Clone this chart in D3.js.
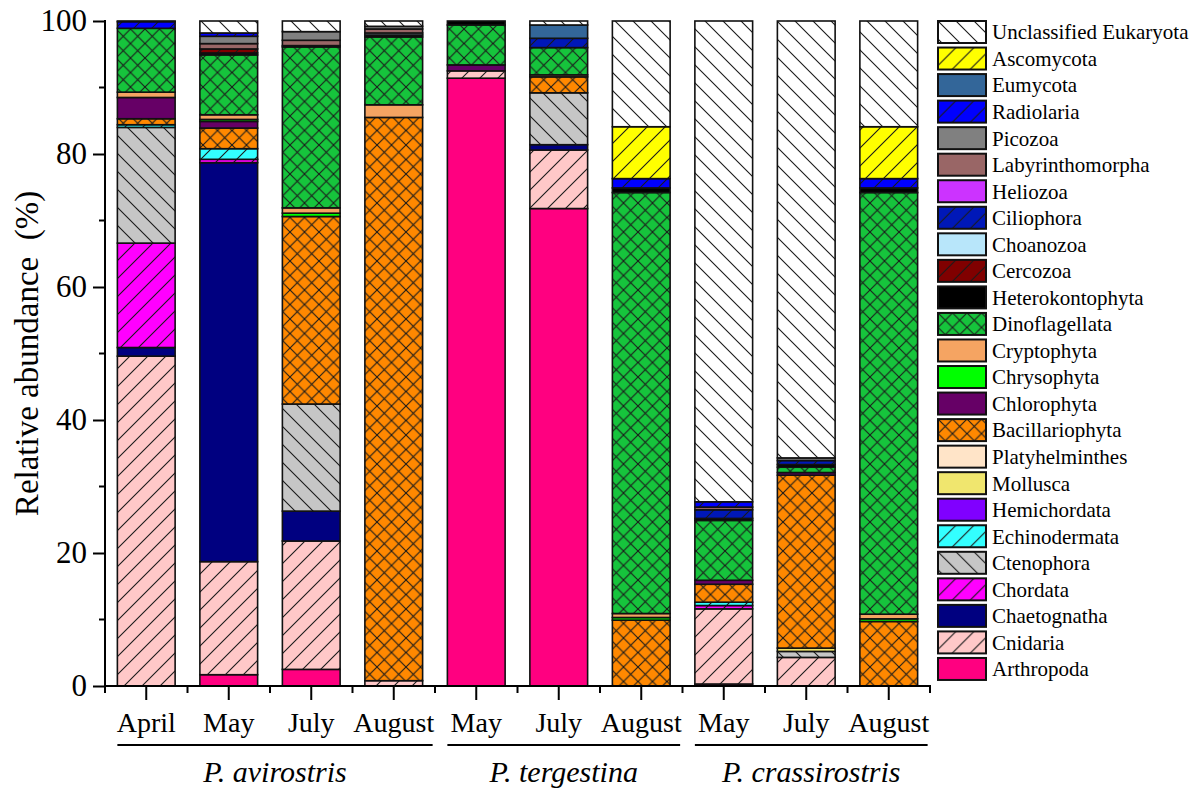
<!DOCTYPE html>
<html>
<head>
<meta charset="utf-8">
<script src="https://cdn.jsdelivr.net/npm/d3@7/dist/d3.min.js"></script>
<style>
  html, body { margin: 0; padding: 0; background: #fff; }
  svg { display: block; }
  svg text { font-family: "Liberation Serif", "Times New Roman", serif; fill: #000; }
</style>
</head>
<body>
<svg id="chart" width="1199" height="788"></svg>
<script>
// Sampling months (one stacked bar each)
const categories = ["April", "May", "July", "August", "May", "July", "August", "May", "July", "August"];

// Copepod species grouping of the bars (first and last bar index of each group)
const groupNames = ["P. avirostris", "P. tergestina", "P. crassirostris"];
const groupFirst = [0, 4, 7];
const groupLast = [3, 6, 9];

// Taxa in stacking order, bottom to top
const taxa = [
  "Arthropoda", "Cnidaria", "Chaetognatha", "Chordata", "Ctenophora", "Echinodermata",
  "Hemichordata", "Mollusca", "Platyhelminthes", "Bacillariophyta", "Chlorophyta",
  "Chrysophyta", "Cryptophyta", "Dinoflagellata", "Heterokontophyta", "Cercozoa",
  "Choanozoa", "Ciliophora", "Heliozoa", "Labyrinthomorpha", "Picozoa", "Radiolaria",
  "Eumycota", "Ascomycota", "Unclassified Eukaryota"
];

// Relative abundance (%) of each taxon per bar
const arthropoda       = [0,    1.7,  2.5,  0,    91.4, 71.8, 0,    0.3,  0,    0];
const cnidaria         = [49.6, 17.0, 19.3, 0.8,  1.1,  8.8,  0,    11.3, 4.3,  0];
const chaetognatha     = [1.3,  60.0, 4.5,  0,    0,    0.8,  0,    0,    0,    0];
const chordata         = [15.7, 0.5,  0,    0,    0,    0,    0,    0.5,  0,    0];
const ctenophora       = [17.4, 0,    16.1, 0,    0,    7.8,  0,    0,    0.9,  0];
const echinodermata    = [0.4,  1.6,  0,    0,    0,    0,    0,    0.5,  0,    0];
const hemichordata     = [0,    0,    0,    0,    0,    0,    0,    0,    0,    0];
const mollusca         = [0,    0,    0,    0,    0,    0,    0,    0,    0.5,  0];
const platyhelminthes  = [0,    0,    0,    0,    0,    0,    0,    0,    0,    0];
const bacillariophyta  = [0.9,  3.1,  28.2, 84.7, 0,    2.4,  9.9,  2.7,  26.0, 9.7];
const chlorophyta      = [3.2,  1.0,  0,    0,    0.9,  0,    0,    0.6,  0.4,  0];
const chrysophyta      = [0,    0.3,  0.5,  0,    0,    0,    0.4,  0,    0,    0.4];
const cryptophyta      = [0.8,  0.7,  0.8,  1.9,  0,    0.3,  0.6,  0,    0,    0.7];
const dinoflagellata   = [9.6,  9.0,  24.2, 10.2, 6.0,  4.1,  63.3, 9.0,  0.8,  63.4];
const heterokontophyta = [0,    0.3,  0.2,  0.3,  0.6,  0,    0.7,  0.3,  0.4,  0.7];
const cercozoa         = [0,    0.6,  0,    0,    0,    0,    0,    0,    0,    0];
const choanozoa        = [0,    0,    0,    0.3,  0,    0,    0,    0,    0,    0];
const ciliophora       = [0,    0,    0,    0,    0,    1.4,  0,    1.3,  0.6,  0];
const heliozoa         = [0,    0,    0,    0,    0,    0,    0,    0,    0,    0];
const labyrinthomorpha = [0,    0.8,  0.8,  0.6,  0,    0,    0,    0.4,  0,    0];
const picozoa          = [0,    1.1,  1.3,  0.4,  0,    0,    0,    0,    0.4,  0];
const radiolaria       = [1.0,  0.5,  0,    0,    0,    0,    1.4,  0.8,  0,    1.4];
const eumycota         = [0,    0,    0,    0,    0,    2.0,  0,    0,    0,    0];
const ascomycota       = [0,    0,    0,    0,    0,    0,    7.8,  0,    0,    7.8];
const unclassified     = [0.1,  1.8,  1.6,  0.8,  0,    0.6,  15.9, 72.3, 65.7, 15.9];

// Y axis tick labels
const yTickValues = [0, 20, 40, 60, 80, 100];
const yMinorValues = [10, 30, 50, 70, 90];

const seriesValues = [
  arthropoda, cnidaria, chaetognatha, chordata, ctenophora, echinodermata,
  hemichordata, mollusca, platyhelminthes, bacillariophyta, chlorophyta,
  chrysophyta, cryptophyta, dinoflagellata, heterokontophyta, cercozoa,
  choanozoa, ciliophora, heliozoa, labyrinthomorpha, picozoa, radiolaria,
  eumycota, ascomycota, unclassified
];

// Fill colour and hatch style per taxon
const fillColors = {
  "Arthropoda": "#ff0080", "Cnidaria": "#ffc8c8", "Chaetognatha": "#000080",
  "Chordata": "#ff00ff", "Ctenophora": "#c6c6c6", "Echinodermata": "#33ffff",
  "Hemichordata": "#8000ff", "Mollusca": "#f0e66e", "Platyhelminthes": "#ffe4c8",
  "Bacillariophyta": "#ff8800", "Chlorophyta": "#660066", "Chrysophyta": "#00ff00",
  "Cryptophyta": "#f5a462", "Dinoflagellata": "#16c43c", "Heterokontophyta": "#000000",
  "Cercozoa": "#800000", "Choanozoa": "#b8e6fa", "Ciliophora": "#0018b8",
  "Heliozoa": "#cc33ff", "Labyrinthomorpha": "#996666", "Picozoa": "#808080",
  "Radiolaria": "#0000ff", "Eumycota": "#336699", "Ascomycota": "#ffff00",
  "Unclassified Eukaryota": "#ffffff"
};
const hatchStyle = {
  "Cnidaria": "fwd", "Chordata": "fwd", "Echinodermata": "fwd", "Cercozoa": "fwd",
  "Ciliophora": "fwd", "Radiolaria": "fwd", "Ascomycota": "fwd",
  "Ctenophora": "back", "Unclassified Eukaryota": "back",
  "Bacillariophyta": "cross", "Dinoflagellata": "cross"
};

const svg = d3.select("#chart");
const plot = { left: 105, right: 930, top: 21, bottom: 686 };

// Hatch patterns
const defs = svg.append("defs");
function patternId(name) { return "pat-" + name.replace(/\s+/g, "-"); }
taxa.forEach(name => {
  const style = hatchStyle[name];
  if (!style) return;
  const s = style === "cross" ? 14.5 : 18;
  const p = defs.append("pattern")
    .attr("id", patternId(name))
    .attr("patternUnits", "userSpaceOnUse")
    .attr("width", s).attr("height", s);
  p.append("rect").attr("width", s).attr("height", s).attr("fill", fillColors[name]);
  const fwd = `M0,${s} L${s},0 M${-s/4},${s/4} L${s/4},${-s/4} M${s*3/4},${s*5/4} L${s*5/4},${s*3/4}`;
  const back = `M0,0 L${s},${s} M${-s/4},${s*3/4} L${s/4},${s*5/4} M${s*3/4},${-s/4} L${s*5/4},${s/4}`;
  const d = style === "fwd" ? fwd : style === "back" ? back : fwd + " " + back;
  p.append("path").attr("d", d).attr("stroke", "#1a1a1a").attr("stroke-width", 1.1).attr("fill", "none");
});
function fillOf(name) { return hatchStyle[name] ? `url(#${patternId(name)})` : fillColors[name]; }

// Scales
const x = d3.scaleBand().domain(d3.range(categories.length))
  .range([plot.left, plot.right]).paddingInner(0.3).paddingOuter(0.15);
const y = d3.scaleLinear().domain([0, 100]).range([plot.bottom, plot.top]);

// Stacked data
const rows = categories.map((c, i) => {
  const r = { idx: i };
  taxa.forEach((t, k) => { r[t] = seriesValues[k][i]; });
  return r;
});
const stacked = d3.stack().keys(taxa)(rows);

// Bars
const layers = svg.append("g").selectAll("g").data(stacked).join("g")
  .attr("fill", d => fillOf(d.key));
layers.selectAll("rect")
  .data(d => d.filter(seg => seg[1] - seg[0] > 0))
  .join("rect")
  .attr("x", d => x(d.data.idx))
  .attr("width", x.bandwidth())
  .attr("y", d => y(d[1]))
  .attr("height", d => y(d[0]) - y(d[1]))
  .attr("stroke", "#111")
  .attr("stroke-width", 1.6);

// Y axis
const yAxis = svg.append("g").attr("transform", `translate(${plot.left},0)`)
  .call(d3.axisLeft(y).tickValues(yTickValues).tickSize(12).tickPadding(6).tickFormat(d3.format("d")));
yAxis.attr("font-family", null).attr("font-size", null);
yAxis.select(".domain").attr("stroke", "#000").attr("stroke-width", 2).attr("d", `M0,${plot.top - 1}V${plot.bottom}`);
yAxis.selectAll(".tick line").attr("stroke", "#000").attr("stroke-width", 2);
yAxis.selectAll(".tick text")
  .style("font-family", "'Liberation Serif', 'Times New Roman', serif")
  .style("font-size", "31px")
  .attr("fill", "#000");
svg.append("g").selectAll("line").data(yMinorValues).join("line")
  .attr("x1", plot.left - 6).attr("x2", plot.left)
  .attr("y1", d => y(d)).attr("y2", d => y(d))
  .attr("stroke", "#000").attr("stroke-width", 2);

// X axis: long ticks at bar centres, short ticks between bars
svg.append("line").attr("x1", plot.left).attr("x2", plot.right + 1)
  .attr("y1", plot.bottom).attr("y2", plot.bottom).attr("stroke", "#000").attr("stroke-width", 2);
const step = x.step();
svg.append("g").selectAll("line").data(d3.range(categories.length + 1)).join("line")
  .attr("x1", i => plot.left + i * step).attr("x2", i => plot.left + i * step)
  .attr("y1", plot.bottom).attr("y2", plot.bottom + 7)
  .attr("stroke", "#000").attr("stroke-width", 2);
svg.append("g").selectAll("line").data(d3.range(categories.length)).join("line")
  .attr("x1", i => x(i) + x.bandwidth() / 2).attr("x2", i => x(i) + x.bandwidth() / 2)
  .attr("y1", plot.bottom).attr("y2", plot.bottom + 14)
  .attr("stroke", "#000").attr("stroke-width", 2);
svg.append("g").selectAll("text").data(categories).join("text")
  .attr("x", (d, i) => x(i) + x.bandwidth() / 2)
  .attr("y", 732)
  .attr("text-anchor", "middle")
  .style("font-size", "28px")
  .text(d => d);

// Species group rules and labels
groupNames.forEach((g, k) => {
  const x0 = x(groupFirst[k]);
  const x1 = x(groupLast[k]) + x.bandwidth() + 10;
  svg.append("line").attr("x1", x0).attr("x2", x1).attr("y1", 745).attr("y2", 745)
    .attr("stroke", "#000").attr("stroke-width", 2);
  svg.append("text").attr("x", (x0 + x1) / 2).attr("y", 782)
    .attr("text-anchor", "middle").style("font-size", "30px").style("font-style", "italic")
    .text(g);
});

// Y axis title
svg.append("text")
  .attr("transform", `translate(38,${(plot.top + plot.bottom) / 2}) rotate(-90)`)
  .attr("text-anchor", "middle")
  .attr("xml:space", "preserve")
  .style("font-size", "33px")
  .text("Relative abundance\u2002(%)");

// Legend, top entry is the last stacked taxon
const legendTaxa = taxa.slice().reverse();
const legend = svg.append("g").selectAll("g").data(legendTaxa).join("g")
  .attr("transform", (d, i) => `translate(938,${21 + i * 26.54})`);
legend.append("rect").attr("width", 48).attr("height", 22)
  .attr("fill", d => fillOf(d)).attr("stroke", "#111").attr("stroke-width", 2);
legend.append("text").attr("x", 54).attr("y", 11).attr("dy", "0.35em")
  .style("font-size", "21px").text(d => d);
</script>
</body>
</html>
